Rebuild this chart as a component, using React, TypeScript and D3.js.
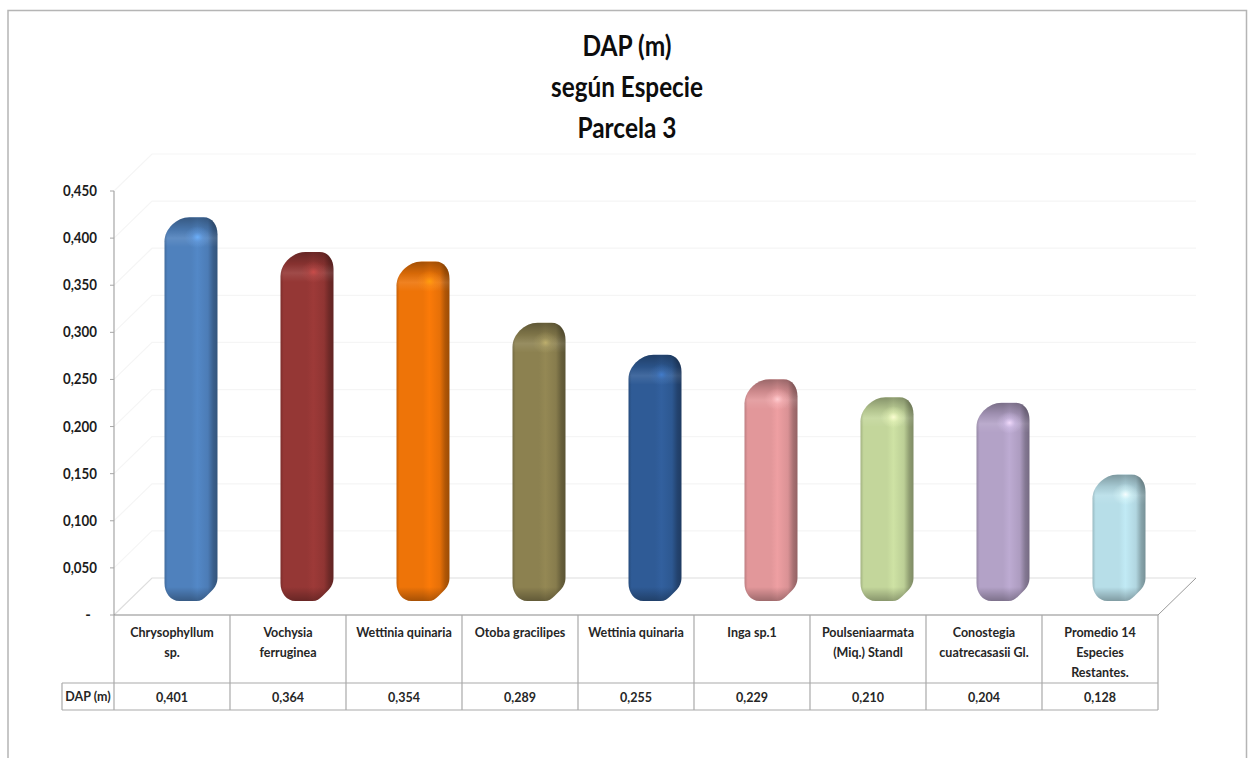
import React from "react";
import * as d3 from "d3";

const categories = [
  ["Chrysophyllum", "sp."],
  ["Vochysia", "ferruginea"],
  ["Wettinia quinaria"],
  ["Otoba gracilipes"],
  ["Wettinia quinaria"],
  ["Inga sp.1"],
  ["Poulseniaarmata", "(Miq.) Standl"],
  ["Conostegia", "cuatrecasasii Gl."],
  ["Promedio 14", "Especies", "Restantes."],
];
const values = [0.401, 0.364, 0.354, 0.289, 0.255, 0.229, 0.21, 0.204, 0.128];
const tickValues = [0, 0.05, 0.1, 0.15, 0.2, 0.25, 0.3, 0.35, 0.4, 0.45];
const titleLines = ["DAP (m)", "según Especie", "Parcela 3"];
const titleWidths = [89, 152, 99];
const rowLabel = "DAP (m)";
const barColors = ["#4f81bd", "#953735", "#ee7408", "#8c8150", "#2f5b96", "#e2979a", "#c3d69b", "#b3a2c7", "#b7dee8"];

const FONT = "Lato, 'Open Sans', sans-serif";
const comma = (v: number) => d3.format(".3f")(v).replace(".", ",");

// Depth offset between the front of the plot floor and its back wall.
const DEPTH_X = 38;
const DEPTH_Y = -37;
const MID_X = 19;

const x = d3.scaleBand<number>().domain(d3.range(values.length)).range([114, 1158]);
const yFront = d3.scaleLinear().domain([0, 0.45]).range([615, 191]);
const yBar = d3.scaleLinear().domain([0, 0.45]).range([596, 172]);

// Rounded column outline: wide left shoulder, tighter right shoulder,
// clipped lower-right corner.
function barPath(l: number, r: number, top: number, bottom: number) {
  const p = d3.path();
  p.moveTo(l, top + 24);
  p.bezierCurveTo(l, top + 12, l + 12, top, l + 25, top);
  p.lineTo(r - 14, top);
  p.bezierCurveTo(r - 5, top, r, top + 8, r, top + 17);
  p.lineTo(r, bottom - 24);
  p.bezierCurveTo(r, bottom - 18, r - 2, bottom - 14, r - 6, bottom - 10);
  p.lineTo(r - 11, bottom - 5);
  p.bezierCurveTo(r - 14, bottom - 2, r - 17, bottom, r - 21, bottom);
  p.lineTo(l + 15, bottom);
  p.bezierCurveTo(l + 6, bottom, l, bottom - 8, l, bottom - 18);
  p.closePath();
  return p.toString();
}

export default function App() {
  const barW = 53;
  const rows = [615, 683, 710];
  const gridStroke = "#f5f5f5";
  return (
    <svg
      width={1252}
      height={758}
      style={{ position: "absolute", left: 0, top: 0, background: "#fff" }}
      fontFamily={FONT}
    >
      <defs>
        {barColors.map((c, i) => {
          const col = d3.color(c)!;
          return (
            <React.Fragment key={i}>
              <linearGradient id={`body${i}`} x1="0" x2="1" y1="0" y2="0">
                <stop offset="0" stopColor={col.darker(0.5).toString()} />
                <stop offset="0.06" stopColor={c} />
                <stop offset="0.5" stopColor={c} />
                <stop offset="0.62" stopColor={col.brighter(0.15).toString()} />
                <stop offset="0.82" stopColor={col.darker(0.1).toString()} />
                <stop offset="0.92" stopColor={col.darker(0.85).toString()} />
                <stop offset="1" stopColor={col.darker(1.2).toString()} />
              </linearGradient>
              <radialGradient id={`spot${i}`}>
                <stop offset="0" stopColor={col.brighter(0.9).toString()} stopOpacity="0.9" />
                <stop offset="0.45" stopColor={col.brighter(0.6).toString()} stopOpacity="0.35" />
                <stop offset="1" stopColor={col.brighter(0.6).toString()} stopOpacity="0" />
              </radialGradient>
            </React.Fragment>
          );
        })}
        <linearGradient id="topShade" x1="0" x2="0" y1="0" y2="1">
          <stop offset="0" stopColor="#000" stopOpacity="0.32" />
          <stop offset="0.4" stopColor="#000" stopOpacity="0.1" />
          <stop offset="0.7" stopColor="#fff" stopOpacity="0.1" />
          <stop offset="1" stopColor="#fff" stopOpacity="0" />
        </linearGradient>
        <linearGradient id="footShade" x1="0" x2="0" y1="0" y2="1">
          <stop offset="0" stopColor="#000" stopOpacity="0" />
          <stop offset="1" stopColor="#000" stopOpacity="0.3" />
        </linearGradient>
      </defs>

      {/* chart frame, open along the bottom edge */}
      <path d="M8,758V10.5H1246.5V758" fill="none" stroke="#b5b5b5" strokeWidth={1.5} />

      {titleLines.map((t, i) => (
        <text
          key={t}
          x={627}
          y={[56, 97, 138][i]}
          textAnchor="middle"
          fontSize={29}
          fontWeight={700}
          fill="#0d0d0d"
          textLength={titleWidths[i]}
          lengthAdjust="spacingAndGlyphs"
        >
          {t}
        </text>
      ))}

      {/* back and side walls */}
      {tickValues.map((v) => (
        <path
          key={v}
          d={`M${x.range()[0]},${yFront(v)}L${x.range()[0] + DEPTH_X},${yFront(v) + DEPTH_Y}H${x.range()[1] + DEPTH_X}`}
          fill="none"
          stroke={v === 0 ? "#dedede" : gridStroke}
          strokeWidth={1.2}
        />
      ))}
      <path
        d={`M${x.range()[1]},${yFront(0)}L${x.range()[1] + DEPTH_X},${yFront(0) + DEPTH_Y}`}
        stroke="#9a9a9a"
        strokeWidth={1}
      />

      {/* y axis */}
      <line x1={114} x2={114} y1={yFront(0.45)} y2={yFront(0)} stroke="#a6a6a6" strokeWidth={1.2} />
      {tickValues.map((v) => (
        <g key={v}>
          <line x1={110} x2={114} y1={yFront(v)} y2={yFront(v)} stroke="#a6a6a6" />
          {v === 0 ? (
            <text x={88} y={yFront(v) + 5} textAnchor="middle" fontSize={15} fontWeight={700} fill="#1c1c1c">
              -
            </text>
          ) : (
            <text
              x={80}
              y={yFront(v) + 5}
              textAnchor="middle"
              fontSize={15.5}
              fontWeight={700}
              fill="#1c1c1c"
              textLength={34}
              lengthAdjust="spacingAndGlyphs"
            >
              {comma(v)}
            </text>
          )}
        </g>
      ))}

      {/* columns */}
      {values.map((v, i) => {
        const cx = x(i)! + x.bandwidth() / 2 + MID_X;
        const l = cx - barW / 2;
        const r = cx + barW / 2;
        const top = yBar(v) - 1;
        const bottom = yBar(0) + 5;
        const d = barPath(l, r, top, bottom);
        const clip = `clip${i}`;
        return (
          <g key={i}>
            <clipPath id={clip}>
              <path d={d} />
            </clipPath>
            <path d={d} fill={`url(#body${i})`} />
            <g clipPath={`url(#${clip})`}>
              <rect x={l} y={top} width={barW} height={30} fill="url(#topShade)" />
              <rect x={l} y={bottom - 14} width={barW} height={14} fill="url(#footShade)" />
              <ellipse cx={cx + 6.5} cy={top + 20} rx={13} ry={11} fill={`url(#spot${i})`} />
            </g>
          </g>
        );
      })}

      {/* data table beneath the plot */}
      <g stroke="#a9a9a9" strokeWidth={1.2} fill="none">
        <line x1={114} x2={1158} y1={rows[0]} y2={rows[0]} stroke="#8a8a8a" />
        <line x1={62} x2={1158} y1={rows[1]} y2={rows[1]} />
        <line x1={62} x2={1158} y1={rows[2]} y2={rows[2]} />
        <line x1={62} x2={62} y1={rows[1]} y2={rows[2]} />
        {d3.range(values.length + 1).map((i) => {
          const px = i === values.length ? x.range()[1] : x(i)!;
          return <line key={i} x1={px} x2={px} y1={rows[0]} y2={rows[2]} />;
        })}
      </g>
      {categories.map((lines, i) => (
        <g key={i}>
          {lines.map((t, j) => (
            <text
              key={j}
              x={x(i)! + x.bandwidth() / 2}
              y={637 + j * 20}
              textAnchor="middle"
              fontSize={12.5}
              fontWeight={700}
              fill="#262626"
            >
              {t}
            </text>
          ))}
          <text
            x={x(i)! + x.bandwidth() / 2}
            y={702}
            textAnchor="middle"
            fontSize={12.5}
            fontWeight={700}
            fill="#262626"
          >
            {comma(values[i])}
          </text>
        </g>
      ))}
      <text x={88} y={701} textAnchor="middle" fontSize={12.5} fontWeight={700} fill="#262626">
        {rowLabel}
      </text>
    </svg>
  );
}
